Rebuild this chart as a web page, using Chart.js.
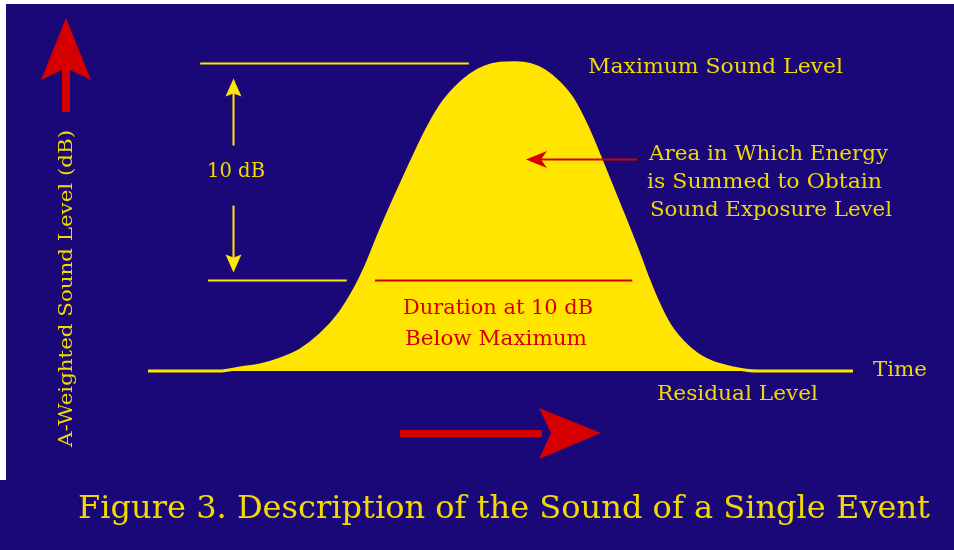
<!DOCTYPE html>
<html>
<head>
<meta charset="utf-8">
<script src="https://cdn.jsdelivr.net/npm/chart.js@4.4.0/dist/chart.umd.min.js"></script>
<style>
  html, body { margin: 0; padding: 0; background: #1a0878; }
  #wrap { width: 954px; height: 550px; }
</style>
</head>
<body>
<div id="wrap"><canvas id="myChart"></canvas></div>
<script>
// time (arbitrary units) and A-weighted level (dB)
const times  = [0, 10.2, 13.05, 15.9, 18.7, 21.6, 24.4, 27.2, 29.4, 30.8, 32.9, 35.0, 37.2, 39.3, 41.4, 43.6, 45.7, 47.8, 49.9, 52.1,
                54.2, 56.3, 58.4, 60.3, 62.3, 64.1, 66.0, 67.9, 69.8, 70.9, 72.2, 74.0, 76.5, 79.3, 83.0, 86.4, 100];
const levels = [55.8, 55.8, 55.94, 56.08, 56.35, 56.77, 57.46, 58.47, 59.62, 60.55, 62.21, 63.77, 65.34, 66.77, 67.97, 68.84, 69.44, 69.81, 69.97, 70.0,
                69.92, 69.62, 69.05, 68.29, 67.04, 65.66, 64.14, 62.62, 61.05, 60.09, 59.07, 57.92, 56.95, 56.31, 55.94, 55.8, 55.8];

const maxLevel = 70;
const durationLevel = 60;   // 10 dB below maximum
const maxLineSpan = [7.4, 45.5];
const tenDbLineSpan = [8.5, 28.2];
const durationSpan = [32.2, 68.7];
const arrowTime = 12.06;

const NAVY = '#1a0878';
const YELLOW = '#ffe500';
const TEXT_YELLOW = '#f2d900';
const RED = '#d40000';

const points = times.map((t, i) => ({ x: t, y: levels[i] }));

// draw text squeezed/stretched to span x0..x1
function fitText(ctx, text, x0, x1, baseline, font, color) {
  ctx.save();
  ctx.font = font;
  ctx.fillStyle = color;
  ctx.textBaseline = 'alphabetic';
  const w = ctx.measureText(text).width;
  ctx.translate(x0, baseline);
  ctx.scale((x1 - x0) / w, 1);
  ctx.fillText(text, 0, 0);
  ctx.restore();
}

function poly(ctx, pts, color) {
  ctx.beginPath();
  ctx.moveTo(pts[0][0], pts[0][1]);
  for (let i = 1; i < pts.length; i++) ctx.lineTo(pts[i][0], pts[i][1]);
  ctx.closePath();
  ctx.fillStyle = color;
  ctx.fill();
}

function hline(ctx, x0, x1, y, color, w) {
  ctx.beginPath();
  ctx.moveTo(x0, y);
  ctx.lineTo(x1, y);
  ctx.strokeStyle = color;
  ctx.lineWidth = w;
  ctx.stroke();
}

const background = {
  id: 'background',
  beforeDraw(chart) {
    const ctx = chart.ctx;
    ctx.save();
    ctx.fillStyle = NAVY;
    ctx.fillRect(0, 0, chart.width, chart.height);
    ctx.fillStyle = '#ffffff';
    ctx.fillRect(0, 0, chart.width, 4);
    ctx.fillRect(0, 0, 6, 480);
    ctx.restore();
  }
};

const annotations = {
  id: 'annotations',
  afterDatasetsDraw(chart) {
    const ctx = chart.ctx;
    const x = chart.scales.x, y = chart.scales.y;
    const yMax = Math.round(y.getPixelForValue(maxLevel)) + 0.5;
    const y10 = Math.round(y.getPixelForValue(durationLevel)) + 0.5;
    ctx.save();

    // reference lines
    hline(ctx, x.getPixelForValue(maxLineSpan[0]), x.getPixelForValue(maxLineSpan[1]), yMax, YELLOW, 2);
    hline(ctx, x.getPixelForValue(tenDbLineSpan[0]), x.getPixelForValue(tenDbLineSpan[1]), y10, YELLOW, 2);
    hline(ctx, x.getPixelForValue(durationSpan[0]), x.getPixelForValue(durationSpan[1]), y10, RED, 2);

    // 10 dB double arrow
    const ax = Math.round(x.getPixelForValue(arrowTime)) + 0.5;
    const topTip = yMax + 15, botTip = y10 - 8;
    const mid = (topTip + botTip) / 2;
    ctx.beginPath();
    ctx.moveTo(ax, topTip + 12); ctx.lineTo(ax, mid - 30);
    ctx.moveTo(ax, mid + 30); ctx.lineTo(ax, botTip - 12);
    ctx.strokeStyle = YELLOW; ctx.lineWidth = 2; ctx.stroke();
    poly(ctx, [[ax, topTip], [ax + 8, topTip + 18], [ax, topTip + 15], [ax - 8, topTip + 18]], YELLOW);
    poly(ctx, [[ax, botTip], [ax + 8, botTip - 18], [ax, botTip - 15], [ax - 8, botTip - 18]], YELLOW);
    fitText(ctx, '10 dB', 207, 265, 177, '20px "DejaVu Serif"', TEXT_YELLOW);

    // axis direction arrows
    ctx.fillStyle = RED;
    ctx.fillRect(62, 66, 8, 46);
    poly(ctx, [[66, 18], [91, 80], [66, 68], [41, 80]], RED);
    ctx.fillRect(400, 430, 142, 7);
    poly(ctx, [[601, 433], [539, 408], [551, 433], [539, 459]], RED);

    // pointer into the area
    hline(ctx, 540, 637, 159.5, RED, 2);
    poly(ctx, [[526, 159.5], [547, 151], [541, 159.5], [547, 168]], RED);

    // labels
    const f = '20px "DejaVu Serif"';
    fitText(ctx, 'Maximum Sound Level', 588, 843, 73, f, TEXT_YELLOW);
    fitText(ctx, 'Area in Which Energy', 649, 888, 160, f, TEXT_YELLOW);
    fitText(ctx, 'is Summed to Obtain', 647, 882, 188, f, TEXT_YELLOW);
    fitText(ctx, 'Sound Exposure Level', 650, 892, 216, f, TEXT_YELLOW);
    fitText(ctx, 'Duration at 10 dB', 403, 593, 314, f, RED);
    fitText(ctx, 'Below Maximum', 405, 587, 345, f, RED);
    fitText(ctx, 'Time', 873, 927, 376, f, TEXT_YELLOW);
    fitText(ctx, 'Residual Level', 657, 818, 400, f, TEXT_YELLOW);
    fitText(ctx, 'Figure 3. Description of the Sound of a Single Event', 78, 930, 518, '31px "DejaVu Serif"', TEXT_YELLOW);

    // y-axis title, rotated
    ctx.save();
    ctx.translate(72, 447);
    ctx.rotate(-Math.PI / 2);
    fitText(ctx, 'A-Weighted Sound Level (dB)', 0, 317, 0, '18px "DejaVu Serif"', TEXT_YELLOW);
    ctx.restore();

    ctx.restore();
  }
};

const ctx = document.getElementById('myChart').getContext('2d');
const myChart = new Chart(ctx, {
  type: 'line',
  data: {
    datasets: [{
      label: 'Sound level',
      data: points,
      borderColor: YELLOW,
      backgroundColor: YELLOW,
      borderWidth: 3,
      fill: 'start',
      pointRadius: 0,
      cubicInterpolationMode: 'monotone',
      clip: false
    }]
  },
  options: {
    responsive: true,
    maintainAspectRatio: false,
    animation: false,
    layout: { padding: { left: 148, right: 101, top: 41, bottom: 179 } },
    scales: {
      x: { type: 'linear', min: 0, max: 100, display: false },
      y: { min: 55.8, max: 71, display: false }
    },
    plugins: { legend: { display: false }, tooltip: { enabled: false } }
  },
  plugins: [background, annotations]
});
</script>
</body>
</html>
